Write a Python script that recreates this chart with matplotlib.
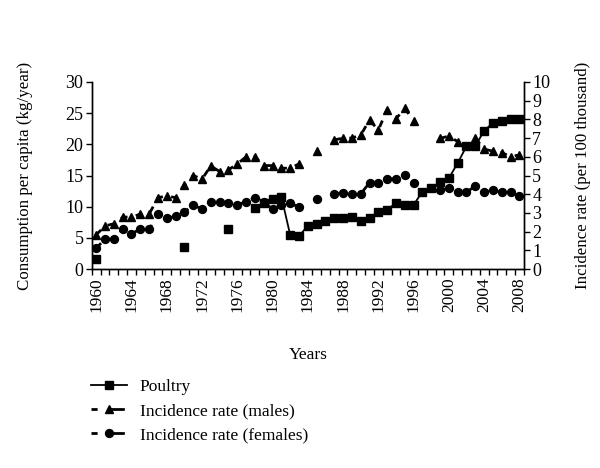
import numpy as np
import matplotlib
matplotlib.use("Agg")
import matplotlib.pyplot as plt
from matplotlib.lines import Line2D

plt.rcParams['font.family'] = ['Liberation Serif', 'DejaVu Serif']

nan = np.nan

# years 1960..2008
years = list(range(1960, 2009))

# poultry consumption, kg/year (left axis)
poultry = [1.65, nan, nan, nan, nan, nan, nan, nan, nan, nan,
           3.5, nan, nan, nan, nan, 6.35, nan, nan, 9.76, 10.66,
           11.25, 11.62, 5.49, 5.33, 6.9, 7.15, 7.65, 8.16, 8.16, 8.42,
           7.68, 8.22, 9.1, 9.49, 10.6, 10.29, 10.29, 12.42, 13.05, 13.9,
           14.56, 17.0, 19.68, 19.68, 22.2, 23.4, 23.7, 24.03, 24.07]

# incidence rate per 100 thousand (right axis)
males = [1.83, 2.31, 2.42, 2.77, 2.79, 2.93, 2.93, 3.82, 3.9, 3.82,
         4.5, 5.0, 4.81, 5.51, 5.21, 5.3, 5.62, 6.0, 6.0, 5.53,
         5.53, 5.39, 5.39, 5.62, nan, 6.31, nan, 6.9, 7.0, 7.0,
         7.16, 7.96, 7.43, 8.52, 8.02, 8.6, 7.9, nan, nan, 6.98,
         7.11, 6.81, nan, 6.99, 6.41, 6.3, 6.22, 6.01, 6.1]

females = [1.12, 1.6, 1.6, 2.12, 1.9, 2.12, 2.12, 2.93, 2.72, 2.81,
           3.05, 3.43, 3.2, 3.61, 3.61, 3.52, 3.43, 3.6, 3.82, 3.6,
           3.2, 3.43, 3.52, 3.31, nan, 3.72, nan, 4.01, 4.09, 4.01,
           4.01, 4.62, 4.62, 4.81, 4.81, 5.03, 4.62, nan, nan, 4.21,
           4.32, 4.13, 4.13, 4.42, 4.13, 4.21, 4.1, 4.1, 3.91]

label_years = list(range(1960, 2009, 4))

fig = plt.figure(figsize=(6, 4.68), dpi=100)
ax = fig.add_axes([0.153, 0.425, 0.72, 0.4])
ax2 = ax.twinx()

dash = (0, (2.5, 3))
ax.plot(years, poultry, color='black', lw=1.3, marker='s', ms=5.4)
ax2.plot(years, males, color='black', lw=2, linestyle=dash, marker='^', ms=6.2)
ax2.plot(years, females, color='black', lw=2, linestyle=dash, marker='o', ms=5.7)

ax.set_xlim(1959.5, 2008.5)
ax.set_ylim(0, 30)
ax2.set_ylim(0, 10)

ax.set_xticks(label_years)
ax.set_xticklabels([str(y) for y in label_years], rotation=90, fontsize=12.5)
ax.set_xticks(np.arange(1959.5, 2009, 1), minor=True)
ax.tick_params(axis='x', which='major', length=0, pad=6)
ax.tick_params(axis='x', which='minor', length=4, width=1, direction='out')

ax.set_yticks(range(0, 31, 5))
ax.tick_params(axis='y', length=4, width=1, labelsize=13, pad=2)
ax2.set_yticks(range(0, 11))
ax2.tick_params(axis='y', length=4, width=1, labelsize=13, pad=2)

for a in (ax, ax2):
    a.spines['top'].set_visible(False)
    for s in a.spines.values():
        s.set_linewidth(1)

ax.set_xlabel('Years', fontsize=12.5, labelpad=25)
ax.set_ylabel('Consumption per capita (kg/year)', fontsize=12.2, labelpad=23)
ax2.set_ylabel('Incidence rate (per 100 thousand)', fontsize=12.2, labelpad=18)

# legend handles: dash, gap, marker with a dash tail
leg_dash = (0, (2.2, 3.8, 6, 10))
handles = [
    Line2D([], [], color='black', lw=1.3, marker='s', ms=5.4),
    Line2D([], [], color='black', lw=2, linestyle=leg_dash, marker='^', ms=6.2),
    Line2D([], [], color='black', lw=2, linestyle=leg_dash, marker='o', ms=5.7),
]
labels = ['Poultry', 'Incidence rate (males)', 'Incidence rate (females)']
fig.legend(handles, labels, loc='upper left', bbox_to_anchor=(0.14, 0.205),
           frameon=False, fontsize=12.5, handlelength=2.1, handletextpad=0.7,
           labelspacing=0.45, borderaxespad=0)

fig.savefig('out.png', dpi=100)
